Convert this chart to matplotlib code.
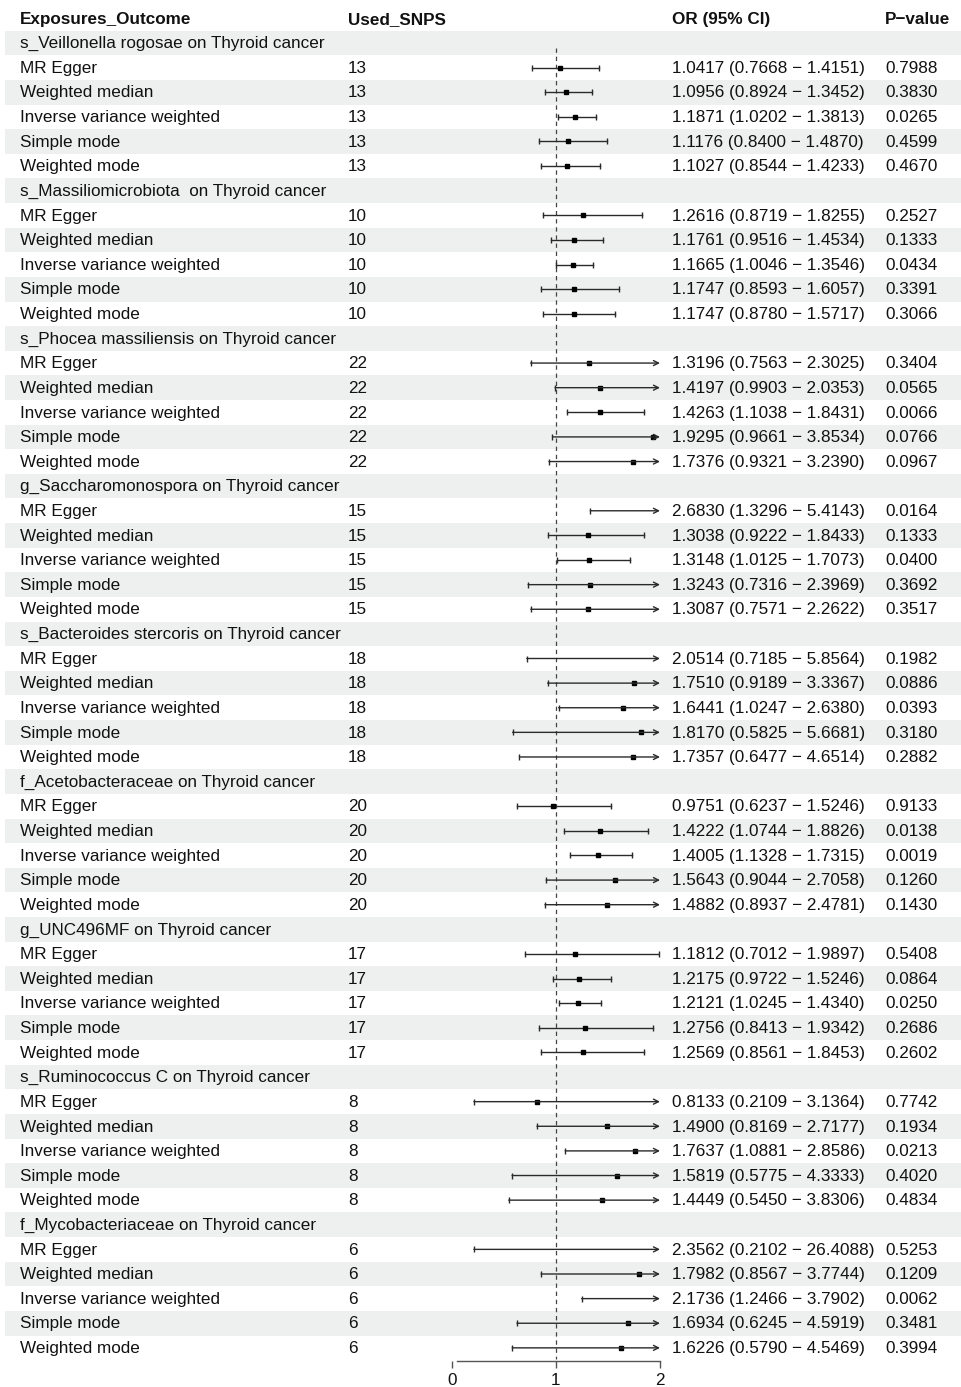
import numpy as np
import matplotlib.pyplot as plt

plt.rcParams['font.family'] = ['Liberation Sans', 'DejaVu Sans']

# exposures (one block of five MR methods each)
exposures = [
    "s_Veillonella rogosae on Thyroid cancer",
    "s_Massiliomicrobiota  on Thyroid cancer",
    "s_Phocea massiliensis on Thyroid cancer",
    "g_Saccharomonospora on Thyroid cancer",
    "s_Bacteroides stercoris on Thyroid cancer",
    "f_Acetobacteraceae on Thyroid cancer",
    "g_UNC496MF on Thyroid cancer",
    "s_Ruminococcus C on Thyroid cancer",
    "f_Mycobacteriaceae on Thyroid cancer",
]
methods = ["MR Egger", "Weighted median", "Inverse variance weighted",
           "Simple mode", "Weighted mode"]
snps = [13, 10, 22, 15, 18, 20, 17, 8, 6]

or_est = [
    [1.0417, 1.0956, 1.1871, 1.1176, 1.1027],
    [1.2616, 1.1761, 1.1665, 1.1747, 1.1747],
    [1.3196, 1.4197, 1.4263, 1.9295, 1.7376],
    [2.6830, 1.3038, 1.3148, 1.3243, 1.3087],
    [2.0514, 1.7510, 1.6441, 1.8170, 1.7357],
    [0.9751, 1.4222, 1.4005, 1.5643, 1.4882],
    [1.1812, 1.2175, 1.2121, 1.2756, 1.2569],
    [0.8133, 1.4900, 1.7637, 1.5819, 1.4449],
    [2.3562, 1.7982, 2.1736, 1.6934, 1.6226],
]
or_lo = [
    [0.7668, 0.8924, 1.0202, 0.8400, 0.8544],
    [0.8719, 0.9516, 1.0046, 0.8593, 0.8780],
    [0.7563, 0.9903, 1.1038, 0.9661, 0.9321],
    [1.3296, 0.9222, 1.0125, 0.7316, 0.7571],
    [0.7185, 0.9189, 1.0247, 0.5825, 0.6477],
    [0.6237, 1.0744, 1.1328, 0.9044, 0.8937],
    [0.7012, 0.9722, 1.0245, 0.8413, 0.8561],
    [0.2109, 0.8169, 1.0881, 0.5775, 0.5450],
    [0.2102, 0.8567, 1.2466, 0.6245, 0.5790],
]
or_hi = [
    [1.4151, 1.3452, 1.3813, 1.4870, 1.4233],
    [1.8255, 1.4534, 1.3546, 1.6057, 1.5717],
    [2.3025, 2.0353, 1.8431, 3.8534, 3.2390],
    [5.4143, 1.8433, 1.7073, 2.3969, 2.2622],
    [5.8564, 3.3367, 2.6380, 5.6681, 4.6514],
    [1.5246, 1.8826, 1.7315, 2.7058, 2.4781],
    [1.9897, 1.5246, 1.4340, 1.9342, 1.8453],
    [3.1364, 2.7177, 2.8586, 4.3333, 3.8306],
    [26.4088, 3.7744, 3.7902, 4.5919, 4.5469],
]
pvals = [
    ["0.7988", "0.3830", "0.0265", "0.4599", "0.4670"],
    ["0.2527", "0.1333", "0.0434", "0.3391", "0.3066"],
    ["0.3404", "0.0565", "0.0066", "0.0766", "0.0967"],
    ["0.0164", "0.1333", "0.0400", "0.3692", "0.3517"],
    ["0.1982", "0.0886", "0.0393", "0.3180", "0.2882"],
    ["0.9133", "0.0138", "0.0019", "0.1260", "0.1430"],
    ["0.5408", "0.0864", "0.0250", "0.2686", "0.2602"],
    ["0.7742", "0.1934", "0.0213", "0.4020", "0.4834"],
    ["0.5253", "0.1209", "0.0062", "0.3481", "0.3994"],
]
headers = ["Exposures_Outcome", "Used_SNPS", "OR (95% CI)", "P\u2212value"]
xticks = [0, 1, 2]

W, H = 962, 1387
row_h = 24.62
y0 = 43.0
ylim = ((H - y0) / row_h, -y0 / row_h)

fig = plt.figure(figsize=(W / 100, H / 100), dpi=100)
tab = fig.add_axes([0, 0, 1, 1])
tab.set_xlim(0, W)
tab.set_ylim(*ylim)
tab.axis('off')

col_x = [20, 348, 672, 885]
fs = 12.3
tc = '#111111'
for x, h in zip(col_x, headers):
    tab.text(x, -1 + 0.03, h, ha='left', va='center', fontsize=fs,
             fontweight='bold', color=tc)

n_rows = len(exposures) * (len(methods) + 1)
shade = np.arange(0, n_rows, 2)
tab.barh(shade, W - 5, left=5, height=1, color='#EEF0EF', zorder=0)

# forest panel shares the row scale
fx0, fx1 = 452, 660
fo = fig.add_axes([fx0 / W, 0, (fx1 - fx0) / W, 1])
fo.set_xlim(0, 2)
fo.set_ylim(*ylim)
fo.patch.set_visible(False)
for s in ['top', 'left', 'right']:
    fo.spines[s].set_visible(False)
axis_row = (1361 - y0) / row_h
fo.spines['bottom'].set_position(('data', axis_row))
fo.spines['bottom'].set_bounds(0.05, 2)
fo.spines['bottom'].set_color('#555555')
fo.spines['bottom'].set_linewidth(1.0)
fo.set_yticks([])
fo.set_xticks(xticks)
fo.set_xticklabels([str(t) for t in xticks])
fo.tick_params(axis='x', direction='out', length=5, width=1.0,
               color='#555555', labelsize=fs, labelcolor=tc, pad=3.5)

fo.vlines(1, (48 - y0) / row_h, (1359 - y0) / row_h, colors='#444444',
          linewidth=0.9, linestyles=(0, (3.5, 3)))

lc = '#2a2a2a'
r = 0
for g, name in enumerate(exposures):
    tab.text(col_x[0], r + 0.03, name, ha='left', va='center', fontsize=fs, color=tc)
    r += 1
    for m, meth in enumerate(methods):
        est, lo, hi = or_est[g][m], or_lo[g][m], or_hi[g][m]
        ty = r + 0.03
        tab.text(col_x[0], ty, meth, ha='left', va='center', fontsize=fs, color=tc)
        tab.text(col_x[1], ty, str(snps[g]), ha='left', va='center', fontsize=fs, color=tc)
        tab.text(col_x[2], ty, f"{est:.4f} ({lo:.4f} \u2212 {hi:.4f})",
                 ha='left', va='center', fontsize=fs, color=tc)
        tab.text(col_x[3], ty, pvals[g][m], ha='left', va='center', fontsize=fs, color=tc)

        lo_c = max(lo, 0)
        fo.plot([lo_c], [r], marker='|', ms=5, mew=1.0, color=lc)
        if hi > 2:
            fo.annotate('', xy=(2, r), xytext=(lo_c, r),
                        arrowprops=dict(arrowstyle='->', mutation_scale=9,
                                        shrinkA=0, shrinkB=0, lw=1.0,
                                        color=lc), zorder=6)
        else:
            fo.plot([lo_c, hi], [r, r], color=lc, lw=1.0)
            fo.plot([hi], [r], marker='|', ms=5, mew=1.0, color=lc)
        if est <= 2:
            fo.plot([est], [r], marker='s', ms=3.2, color='black', zorder=5)
        r += 1

fig.savefig('out.png', dpi=100)
